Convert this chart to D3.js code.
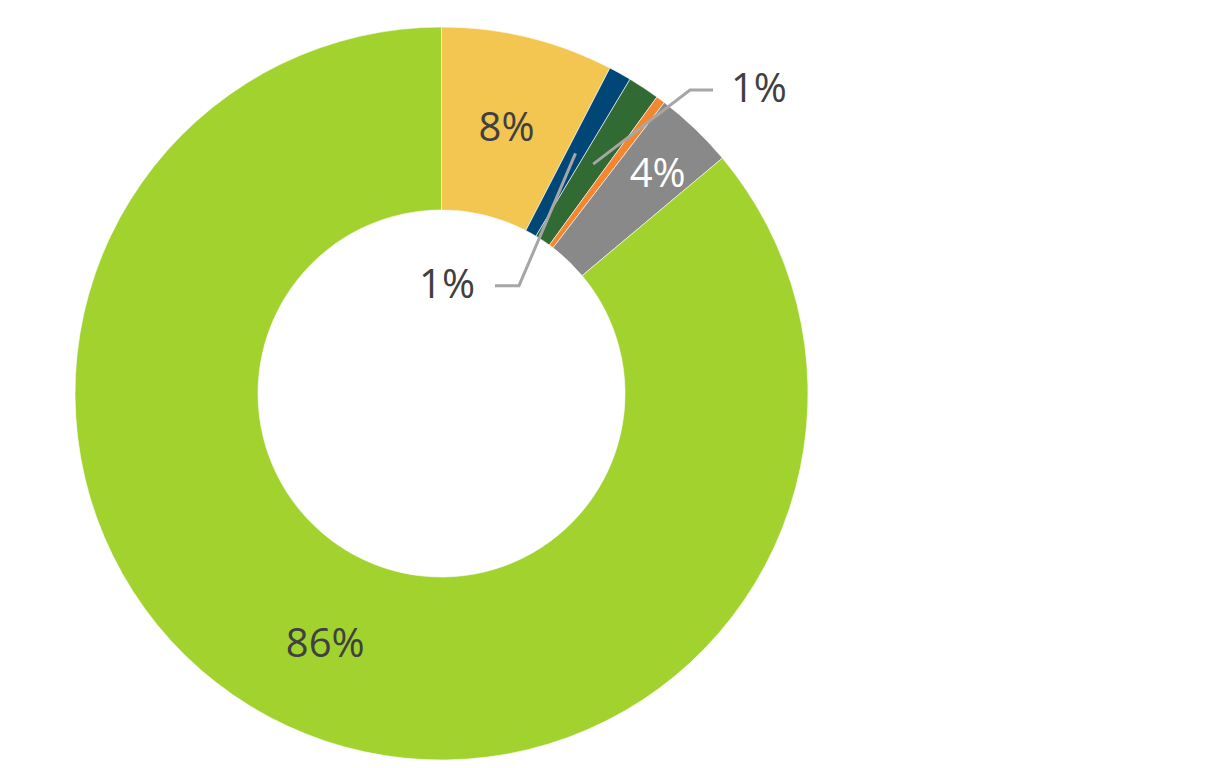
<!DOCTYPE html>
<html>
<head>
<meta charset="utf-8">
<script src="https://cdn.jsdelivr.net/npm/d3@7"></script>
<style>
  html, body { margin: 0; padding: 0; background: #fff; }
  svg { display: block; }
</style>
</head>
<body>
<svg id="chart" width="1224" height="768"></svg>
<script>
// ---- data ----
const categories = ["A", "B", "C", "D", "E", "F"];
const values = [7.6, 1.0, 1.4, 0.4, 3.5, 86.1];
const labels = ["8%", "1%", "1%", "", "4%", "86%"];
const colors = ["#F2C650", "#004677", "#316A33", "#F4862F", "#898989", "#A1D22E"];

// ---- layout ----
const svg = d3.select("#chart");
const cx = 441.5, cy = 393.5;
const outerR = 366.5, innerR = 183.5;
const g = svg.append("g").attr("transform", `translate(${cx},${cy})`);

const pie = d3.pie().sort(null).value(d => d.v);
const dataset = categories.map((c, i) => ({ c, v: values[i], label: labels[i], color: colors[i], i }));
const arcs = pie(dataset);

const arc = d3.arc().innerRadius(innerR).outerRadius(outerR);
const labelArc = d3.arc().innerRadius(innerR).outerRadius(outerR);

g.selectAll("path.slice")
  .data(arcs)
  .enter().append("path")
  .attr("class", "slice")
  .attr("d", arc)
  .attr("fill", d => d.data.color)
  .attr("stroke", "#ffffff")
  .attr("stroke-width", 0.6);

const fontSize = 40;
const fontFamily = "'Open Sans', 'Liberation Sans', sans-serif";

const placement = {
  0: { type: "inside", dx: 0, dy: 0, fill: "#404040" },
  1: { type: "leader", elbow: [519 - cx, 285.7 - cy], end: [495 - cx, 285.7 - cy], anchor: "end", tx: 475 - cx, fill: "#404040" },
  2: { type: "leader", elbow: [690 - cx, 90 - cy], end: [713 - cx, 90 - cy], anchor: "start", tx: 731 - cx, fill: "#404040" },
  4: { type: "inside", dx: 26, dy: -22, fill: "#ffffff" },
  5: { type: "inside", dx: 0, dy: 0, fill: "#404040" }
};

arcs.forEach((a, i) => {
  const p = placement[i];
  if (!p || !a.data.label) return;
  const c = labelArc.centroid(a);
  if (p.type === "inside") {
    g.append("text")
      .attr("x", c[0] + p.dx)
      .attr("y", c[1] + p.dy + fontSize * 0.357)
      .attr("text-anchor", "middle")
      .attr("font-family", fontFamily)
      .attr("font-size", fontSize)
      .attr("fill", p.fill)
      .text(a.data.label);
  } else {
    g.append("polyline")
      .attr("points", [c, p.elbow, p.end].map(q => q.join(",")).join(" "))
      .attr("fill", "none")
      .attr("stroke", "#A6A6A6")
      .attr("stroke-width", 3);
    g.append("text")
      .attr("x", p.tx)
      .attr("y", p.end[1] + fontSize * 0.357 - 2)
      .attr("text-anchor", p.anchor)
      .attr("font-family", fontFamily)
      .attr("font-size", fontSize)
      .attr("fill", p.fill)
      .text(a.data.label);
  }
});
</script>
</body>
</html>
